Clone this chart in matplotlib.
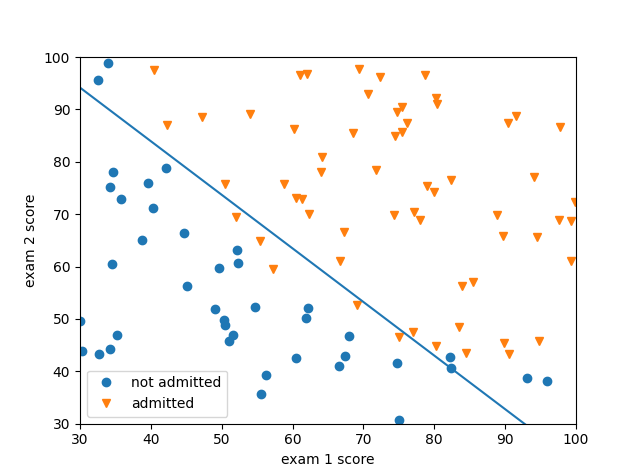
import numpy as np
import matplotlib
matplotlib.use('Agg')
import matplotlib.pyplot as plt

# exam scores, not admitted
exam1_neg = [34.62, 30.29, 35.85, 45.08, 95.86, 75.01, 39.54, 67.95, 67.37, 50.53,
             34.21, 93.11, 61.83, 38.79, 52.11, 40.24, 54.64, 33.92, 74.79, 34.18,
             51.55, 82.37, 51.05, 62.22, 34.52, 50.29, 49.59, 32.58, 35.29, 56.25,
             30.06, 44.67, 66.56, 49.07, 32.72, 60.46, 82.23, 42.08, 52.35, 55.48]
exam2_neg = [78.02, 43.89, 72.90, 56.32, 38.23, 30.60, 76.04, 46.68, 42.84, 48.86,
             44.21, 38.80, 50.26, 65.00, 63.13, 71.17, 52.21, 98.87, 41.57, 75.24,
             46.86, 40.62, 45.82, 52.06, 60.40, 49.80, 59.81, 95.60, 47.02, 39.26,
             49.59, 66.45, 41.09, 51.88, 43.31, 42.51, 42.72, 78.84, 60.77, 35.57]

# exam scores, admitted
exam1_pos = [60.18, 79.03, 61.11, 75.02, 76.10, 84.43, 82.31, 69.36, 53.97, 69.07,
             70.66, 76.98, 89.68, 77.92, 62.27, 80.19, 61.38, 85.40, 52.05, 64.18,
             83.90, 94.44, 77.19, 97.77, 62.07, 91.56, 79.94, 99.27, 90.55, 97.65,
             74.25, 71.80, 75.40, 40.46, 80.28, 66.75, 64.04, 72.35, 60.46, 58.84,
             99.83, 47.26, 50.46, 88.91, 94.83, 67.32, 57.24, 80.37, 68.47, 75.48,
             78.64, 94.09, 90.45, 74.49, 89.85, 83.49, 42.26, 99.32, 55.34, 74.78]
exam2_pos = [86.31, 75.34, 96.51, 46.55, 87.42, 43.53, 76.48, 97.72, 89.21, 52.74,
             92.93, 47.58, 65.80, 68.97, 69.95, 44.82, 72.81, 57.05, 69.43, 80.91,
             56.31, 65.57, 70.46, 86.73, 96.77, 88.70, 74.16, 61.00, 43.39, 68.86,
             69.82, 78.45, 85.76, 97.54, 92.12, 60.99, 78.03, 96.23, 73.09, 75.86,
             72.37, 88.48, 75.81, 69.80, 45.69, 66.59, 59.51, 90.96, 85.59, 90.42,
             96.65, 77.16, 87.51, 84.85, 45.36, 48.38, 87.10, 68.78, 64.93, 89.53]

# fitted logistic regression parameters
theta = [-25.161, 0.20623, 0.20147]

bx = np.array([30, 100])
by = -(theta[0] + theta[1] * bx) / theta[2]

fig = plt.figure(figsize=(6.4, 4.76), dpi=100)
plt.plot(exam1_neg, exam2_neg, 'o', label='not admitted')
plt.plot(exam1_pos, exam2_pos, 'v', label='admitted')
plt.plot(bx, by, color='C0')
plt.xlim(30, 100)
plt.ylim(30, 100)
plt.xlabel('exam 1 score')
plt.ylabel('exam 2 score')
plt.legend(loc='lower left')
plt.savefig('out.png')
